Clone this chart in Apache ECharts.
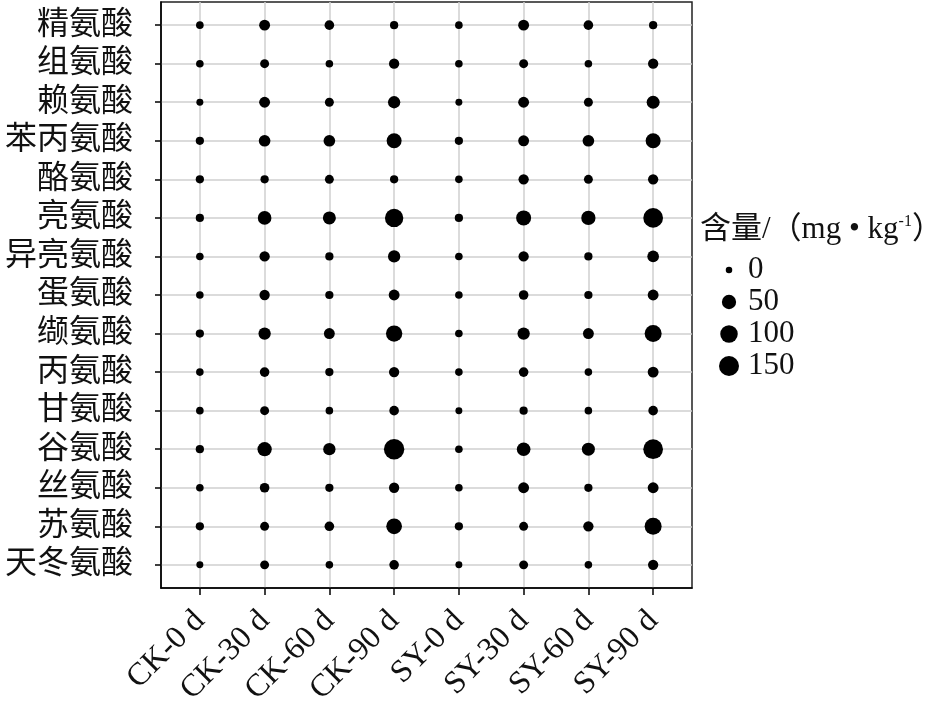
<!DOCTYPE html>
<html><head><meta charset="utf-8">
<script src="https://cdn.jsdelivr.net/npm/echarts@6/dist/echarts.min.js"></script>
<style>html,body{margin:0;padding:0;background:#fff}#c{width:950px;height:718px}</style>
</head><body><div id="c"></div>
<script>
const aminoAcids = ['精氨酸','组氨酸','赖氨酸','苯丙氨酸','酪氨酸','亮氨酸','异亮氨酸','蛋氨酸','缬氨酸','丙氨酸','甘氨酸','谷氨酸','丝氨酸','苏氨酸','天冬氨酸'];
const groups = ['CK-0 d','CK-30 d','CK-60 d','CK-90 d','SY-0 d','SY-30 d','SY-60 d','SY-90 d'];
// content (mg/kg) per group, in aminoAcids order
const CK_0  = [1, 1, 0.2, 2.5, 2.5, 2.5, 1, 1, 2.5, 1, 1, 2.5, 1, 2.5, 0.2];
const CK_30 = [16, 5, 16, 22, 2.5, 42, 12, 12, 28, 8, 5, 50, 8, 5, 5];
const CK_60 = [8, 1, 5, 22, 5, 35, 2.5, 2.5, 16, 2.5, 1, 28, 2.5, 8, 1];
const CK_90 = [2.5, 12, 28, 60, 2.5, 116, 28, 16, 80, 12, 8, 159, 12, 70, 8];
const SY_0  = [1, 1, 0.2, 2.5, 1, 2.5, 1, 1, 1, 1, 0.2, 1, 1, 2.5, 0.2];
const SY_30 = [16, 5, 16, 16, 12, 60, 12, 8, 28, 8, 2.5, 42, 16, 5, 5];
const SY_60 = [8, 1, 5, 22, 5, 50, 2.5, 2.5, 16, 1, 1, 35, 2.5, 12, 1];
const SY_90 = [2.5, 12, 35, 60, 12, 144, 22, 16, 91, 16, 8, 144, 16, 91, 12];
const groupValues = [CK_0, CK_30, CK_60, CK_90, SY_0, SY_30, SY_60, SY_90];
const legendBreaks = [0, 50, 100, 150];

const sizeOf = v => 6.5 + 1.1 * Math.sqrt(v);
const FONT = "'Liberation Serif', 'Noto Sans CJK SC', serif";

const points = [];
groupValues.forEach((arr, gi) => arr.forEach((v, ai) => points.push([gi + 1, ai + 1, v])));
const xPos = groups.map((g, i) => i + 1);
const yPos = aminoAcids.map((a, i) => i + 1);

const chart = echarts.init(document.getElementById('c'), null, {renderer: 'canvas'});
chart.setOption({
  backgroundColor: '#fff',
  animation: false,
  title: {
    left: 695, top: 209,
    text: '{a|含量/（mg • kg}{s|-1}{a|）}',
    textStyle: {
      rich: {
        a: {fontSize: 31, fontFamily: FONT, color: '#111', fontWeight: 'normal'},
        s: {fontSize: 16, fontFamily: FONT, color: '#111', fontWeight: 'normal', verticalAlign: 'top', lineHeight: 16}
      }
    }
  },
  grid: [
    {left: 161, right: 258, top: 2, bottom: 130, show: true, borderColor: '#222', borderWidth: 1.5, containLabel: false},
    {left: 719, width: 20, top: 254, height: 128, containLabel: false}
  ],
  xAxis: [{
    type: 'value', gridIndex: 0, min: 0.4, max: 8.6,
    axisLine: {show: true, lineStyle: {color: '#000', width: 1.5}},
    axisTick: {show: true, length: 7, customValues: xPos, lineStyle: {color: '#000', width: 1.5}},
    axisLabel: {customValues: xPos, rotate: 45, margin: 28, fontSize: 32, fontFamily: FONT, color: '#111',
      formatter: v => groups[Math.round(v) - 1] || ''},
    splitLine: {show: true, lineStyle: {color: '#cfcfcf', width: 1.5}}
  }, {
    type: 'category', gridIndex: 1, data: ['x'], show: false
  }],
  yAxis: [{
    type: 'value', gridIndex: 0, min: 0.4, max: 15.6, inverse: true,
    axisLine: {show: true, lineStyle: {color: '#000', width: 1.5}},
    axisTick: {show: true, length: 6, customValues: yPos, lineStyle: {color: '#000', width: 1.5}},
    axisLabel: {customValues: yPos, margin: 28, fontSize: 32, fontFamily: FONT, color: '#111',
      formatter: v => aminoAcids[Math.round(v) - 1] || ''},
    splitLine: {show: true, lineStyle: {color: '#cfcfcf', width: 1.5}}
  }, {
    type: 'category', gridIndex: 1, data: legendBreaks.map(String), inverse: true, position: 'right',
    axisLine: {show: false}, axisTick: {show: false}, splitLine: {show: false},
    axisLabel: {interval: 0, margin: 9, fontSize: 31, fontFamily: FONT, color: '#111', align: 'left'}
  }],
  series: [{
    type: 'scatter', xAxisIndex: 0, yAxisIndex: 0,
    data: points,
    symbolSize: d => sizeOf(d[2]),
    itemStyle: {color: '#000', opacity: 1}
  }, {
    type: 'scatter', xAxisIndex: 1, yAxisIndex: 1,
    data: legendBreaks.map(v => ['x', String(v), v]),
    symbolSize: d => sizeOf(d[2]),
    itemStyle: {color: '#000', opacity: 1}
  }]
});
</script>
</body></html>
